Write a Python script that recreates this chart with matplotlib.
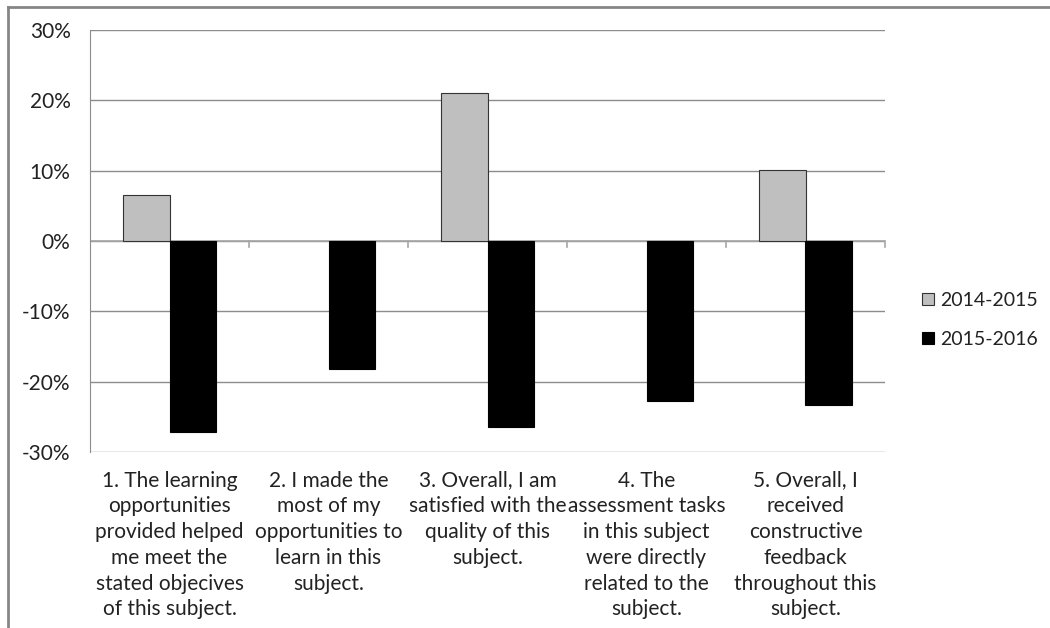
import numpy as np
import matplotlib.pyplot as plt
from matplotlib.lines import Line2D

plt.rcParams['font.family'] = ['Lato', 'DejaVu Sans']

categories = [
    '1. The learning\nopportunities\nprovided helped\nme meet the\nstated objecives\nof this subject.',
    '2. I made the\nmost of my\nopportunities to\nlearn in this\nsubject.',
    '3. Overall, I am\nsatisfied with the\nquality of this\nsubject.',
    '4. The\nassessment tasks\nin this subject\nwere directly\nrelated to the\nsubject.',
    '5. Overall, I\nreceived\nconstructive\nfeedback\nthroughout this\nsubject.',
]
series_names = ['2014-2015', '2015-2016']
vals_1415 = [0.066, 0.0, 0.211, 0.0, 0.101]
vals_1516 = [-0.272, -0.182, -0.265, -0.228, -0.233]

fig = plt.figure(figsize=(10.5, 6.28), dpi=100)
ax = fig.add_axes([90/1050, 1 - 452/628, 795/1050, 422/628])

x = np.arange(len(categories))
w = 0.29
lw_1415 = [0.8 if v != 0 else 0 for v in vals_1415]
ax.bar(x - w/2, vals_1415, w, color='#bfbfbf', edgecolor='#333333', linewidth=lw_1415,
       label=series_names[0], zorder=3)
ax.bar(x + w/2, vals_1516, w, color='black', edgecolor='black', linewidth=0.8,
       label=series_names[1], zorder=3)

ax.set_xlim(-0.5, len(categories) - 0.5)
ax.set_ylim(-0.3, 0.3)
ax.set_yticks(np.arange(-0.3, 0.31, 0.1))
ax.set_yticklabels([f'{v:.0f}%' for v in np.arange(-30, 31, 10)], fontsize=15, color='#222222')
ax.yaxis.grid(True, color='#8c8c8c', linewidth=1, zorder=0)
ax.tick_params(axis='y', length=0, pad=14)
ax.set_xticks([])

for s in ['top', 'right', 'bottom']:
    ax.spines[s].set_visible(False)
ax.spines['left'].set_color('#8c8c8c')

# category axis at zero with tick marks between categories
ax.axhline(0, color='#a6a6a6', linewidth=1.2, zorder=2)
for b in np.arange(0.5, len(categories) - 0.5 + 0.01, 1):
    ax.plot([b, b], [0, -0.008], color='#a6a6a6', linewidth=1.2, zorder=2, clip_on=False)

for i, lab in enumerate(categories):
    ax.text(i, -0.044, lab, transform=ax.get_xaxis_transform(), ha='center', va='top',
            fontsize=15, color='#222222', linespacing=1.36, multialignment='center')

leg = ax.legend(loc='center left', bbox_to_anchor=(1.025, 0.313), frameon=False, fontsize=14,
                handlelength=0.6, handleheight=0.6, handletextpad=0.3, labelspacing=1.15,
                labelcolor='#222222')

# outer chart border
fig.add_artist(Line2D([8/1050, 8/1050], [0, 1 - 7/628], transform=fig.transFigure,
                      color='#868686', linewidth=2))
fig.add_artist(Line2D([8/1050, 1], [1 - 7/628, 1 - 7/628], transform=fig.transFigure,
                      color='#868686', linewidth=2))

fig.savefig('out.png', dpi=100)
